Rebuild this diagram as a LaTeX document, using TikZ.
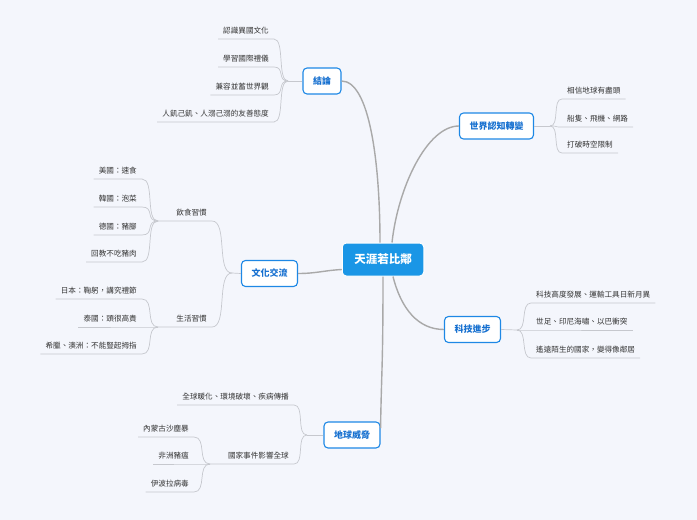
\documentclass[tikz,border=0pt]{standalone}
\usepackage{fontspec}
\setmainfont{Noto Sans CJK TC}
\definecolor{bg}{HTML}{F4F6FC}
\definecolor{rootc}{HTML}{1A96E6}
\definecolor{bluebd}{HTML}{1E88E5}
\definecolor{bluetx}{HTML}{1670D0}
\definecolor{mainln}{HTML}{A9A9A9}
\definecolor{subln}{HTML}{C6C8CE}
\definecolor{txt}{HTML}{333333}
\begin{document}
\begin{tikzpicture}[x=1pt,y=-1pt,
 leaf/.style={font=\fontsize{7.6}{9}\selectfont, text=txt, inner xsep=5pt, inner ysep=4pt, text height=7pt, text depth=1.5pt},
 lleaf/.style={leaf, anchor=south east},
 rleaf/.style={leaf, anchor=south west},
 topic/.style={draw=bluebd, line width=1.1pt, fill=white, rounded corners=4pt, text=bluetx, font=\bfseries\fontsize{9}{11}\selectfont, minimum height=26pt, inner xsep=10pt},
 root/.style={fill=rootc, draw=white, line width=1pt, rounded corners=4pt, text=white, font=\bfseries\fontsize{11.5}{14}\selectfont, minimum height=33pt, inner xsep=12pt},
 main/.style={draw=mainln, line width=1.4pt},
 sub/.style={draw=subln, line width=0.7pt}
]
\fill[bg] (0,0) rectangle (697,520);
\useasboundingbox (0,0) rectangle (697,520);

% root and topics
\node[root] (root) at (383,259.5) {天涯若比鄰};
\node[topic] (jl) at (322,81) {結論};
\node[topic] (wn) at (496.5,126) {世界認知轉變};
\node[topic] (cn) at (269.5,273.5) {文化交流};
\node[topic] (tn) at (472.5,329.5) {科技進步};
\node[topic] (en) at (352,435) {地球威脅};

% main connectors
\draw[main] ([xshift=-3pt]root.north) .. controls +(0,-80) and +(28,0) .. (jl.east);
\draw[main] ([xshift=9pt]root.north) .. controls +(6,-55) and +(-32,0) .. (wn.west);
\draw[main] ([yshift=-10pt]root.west) .. controls +(-18,1) and +(18,0) .. (cn.east);
\draw[main] ([xshift=10pt]root.south) .. controls +(8,32) and +(-26,0) .. (tn.west);
\draw[main] (root.south) .. controls +(0,90) and +(1,-60) .. ([yshift=7pt]en.east);

% 結論
\coordinate (jc) at (288,81);
\draw[sub] (jl.west) -- (jc);
\node[lleaf] (c1) at (274,39) {認識異國文化};
\node[lleaf] (c2) at (274,67) {學習國際禮儀};
\node[lleaf] (c3) at (274,95) {兼容並蓄世界觀};
\node[lleaf] (c4) at (274,122) {人飢己飢、人溺己溺的友善態度};
\foreach \n in {c1,c2,c3,c4}
  \draw[sub] (\n.south west) -- (\n.south east) .. controls +(11,0) and +(-11,0) .. (jc);

% 世界認知轉變
\coordinate (jw) at (550,126);
\draw[sub] (wn.east) -- (jw);
\node[rleaf] (w1) at (562,99) {相信地球有盡頭};
\node[rleaf] (w2) at (562,127) {船隻、飛機、網路};
\node[rleaf] (w3) at (562,153) {打破時空限制};
\foreach \n in {w1,w2,w3}
  \draw[sub] (jw) .. controls +(10,0) and +(-10,0) .. (\n.south west) -- (\n.south east);

% 文化交流
\coordinate (K) at (232,273);
\draw[sub] (K) -- (cn.west);
\node[lleaf] (f) at (212,221) {飲食習慣};
\node[lleaf] (s) at (212,327) {生活習慣};
\coordinate (J1) at (158,221);
\coordinate (J2) at (158,327);
\draw[sub] (J1) -- (f.south west) -- (f.south east) .. controls +(16,0) and +(-16,0) .. (K);
\draw[sub] (J2) -- (s.south west) -- (s.south east) .. controls +(16,0) and +(-16,0) .. (K);
\node[lleaf] (f1) at (142,179) {美國：速食};
\node[lleaf] (f2) at (142,207) {韓國：泡菜};
\node[lleaf] (f3) at (142,235) {德國：豬腳};
\node[lleaf] (f4) at (142,262) {回教不吃豬肉};
\foreach \n in {f1,f2,f3,f4}
  \draw[sub] (\n.south west) -- (\n.south east) .. controls +(13,0) and +(-13,0) .. (J1);
\node[lleaf] (s1) at (142,299) {日本：鞠躬，講究禮節};
\node[lleaf] (s2) at (142,327) {泰國：頭很高貴};
\node[lleaf] (s3) at (142,354) {希臘、澳洲：不能豎起拇指};
\foreach \n in {s1,s2,s3}
  \draw[sub] (\n.south west) -- (\n.south east) .. controls +(13,0) and +(-13,0) .. (J2);

% 科技進步
\coordinate (jt) at (517,330);
\draw[sub] (tn.east) -- (jt);
\node[rleaf] (t1) at (531,303) {科技高度發展、運輸工具日新月異};
\node[rleaf] (t2) at (531,330) {世足、印尼海嘯、以巴衝突};
\node[rleaf] (t3) at (531,358) {遙遠陌生的國家，變得像鄰居};
\foreach \n in {t1,t2,t3}
  \draw[sub] (jt) .. controls +(11,0) and +(-11,0) .. (\n.south west) -- (\n.south east);

% 地球威脅
\coordinate (je) at (307,435);
\draw[sub] (en.west) -- (je);
\node[lleaf] (e1) at (294,405) {全球暖化、環境破壞、疾病傳播};
\node[lleaf] (g) at (294,464) {國家事件影響全球};
\draw[sub] (e1.south west) -- (e1.south east) .. controls +(11,0) and +(-11,0) .. (je);
\coordinate (J3) at (210,464);
\draw[sub] (J3) -- (g.south west) -- (g.south east) .. controls +(11,0) and +(-11,0) .. (je);
\node[lleaf] (g1) at (194,437) {內蒙古沙塵暴};
\node[lleaf] (g2) at (194,464) {非洲豬瘟};
\node[lleaf] (g3) at (194,492) {伊波拉病毒};
\foreach \n in {g1,g2,g3}
  \draw[sub] (\n.south west) -- (\n.south east) .. controls +(13,0) and +(-13,0) .. (J3);
\end{tikzpicture}
\end{document}
